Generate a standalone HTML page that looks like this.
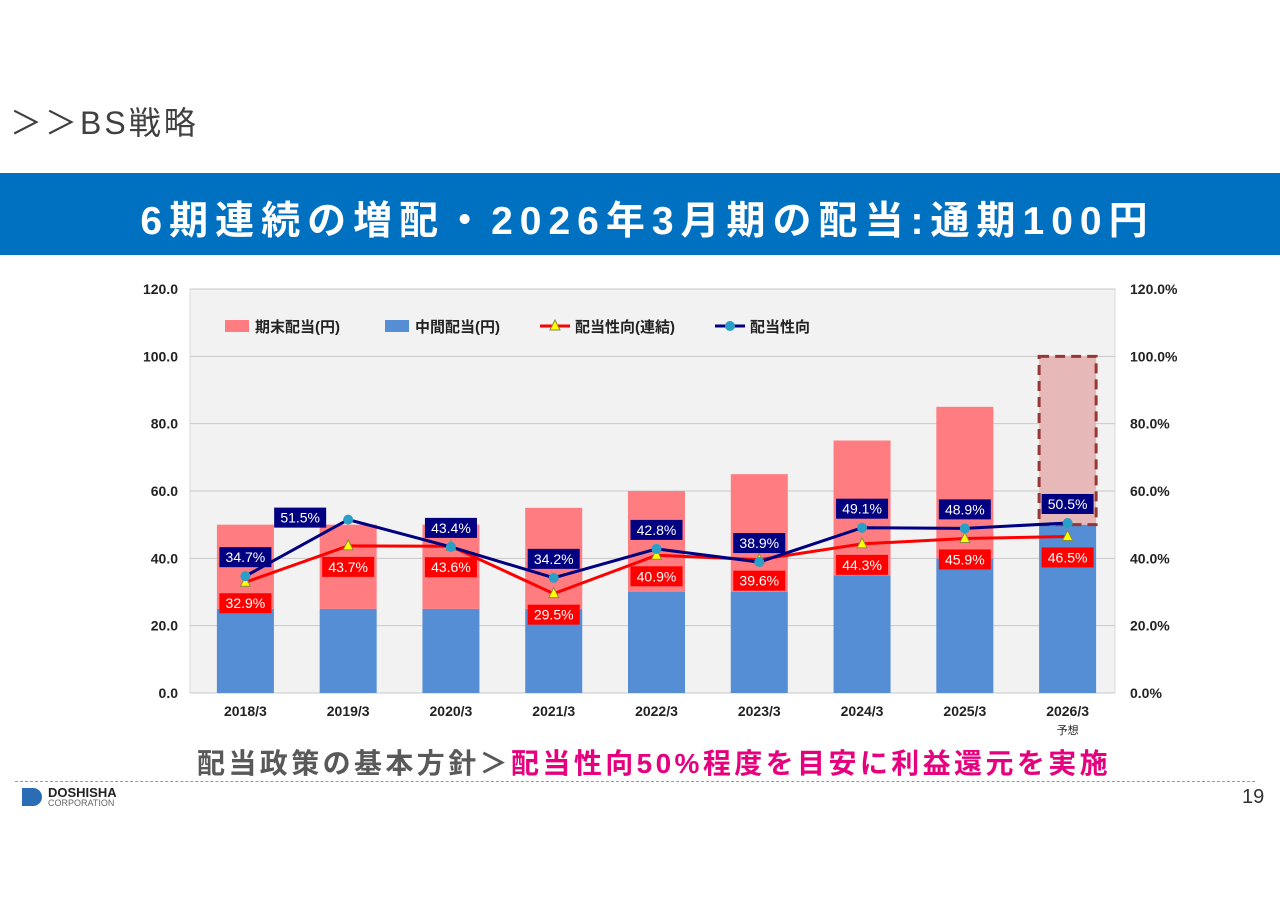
<!DOCTYPE html>
<html><head><meta charset="utf-8"><style>
body{margin:0;width:1280px;height:905px;background:#fff;font-family:"Liberation Sans","Noto Sans CJK JP",sans-serif;overflow:hidden;position:relative}
.abs{position:absolute}
</style></head><body>
<div class="abs" style="left:10px;top:98px;font-size:32px;color:#404040;letter-spacing:3px">＞＞BS戦略</div>
<div class="abs" style="left:0;top:173px;width:1280px;height:82px;background:#0070c0;"></div>
<div class="abs" style="left:0;top:190px;width:1295px;text-align:center;font-size:39px;font-weight:bold;color:#fff;letter-spacing:7px;white-space:nowrap">6期連続の増配・2026年3月期の配当:通期100円</div>
<svg class="abs" style="left:0;top:0" width="1280" height="905" id="chart"></svg>
<div class="abs" style="left:197px;top:742px;font-size:28px;font-weight:bold;color:#595959;white-space:nowrap;letter-spacing:3.4px">配当政策の基本方針＞<span style="color:#e6007e">配当性向50%程度を目安に利益還元を実施</span></div>
<div class="abs" style="left:15px;top:781px;width:1240px;border-top:1px dashed #999"></div>
<div class="abs" style="left:22px;top:786px;">
<div style="position:absolute;left:0;top:2px;width:20px;height:18px;background:#2a6db5;border-radius:0 9px 9px 0"></div>
<div style="position:absolute;left:26px;top:-1px;font-size:13px;font-weight:bold;color:#222">DOSHISHA</div>
<div style="position:absolute;left:26px;top:12px;font-size:9px;color:#666">CORPORATION</div></div>
<div class="abs" style="left:1242px;top:786px;font-size:20px;color:#333">19</div>
<script>
const categories=["2018/3","2019/3","2020/3","2021/3","2022/3","2023/3","2024/3","2025/3","2026/3"];
const interim=[25,25,25,25,30,30,35,40,50];
const yearEnd=[25,25,25,30,30,35,40,45,50];
const payoutConsol=[32.9,43.7,43.6,29.5,40.9,39.6,44.3,45.9,46.5];
const payout=[34.7,51.5,43.4,34.2,42.8,38.9,49.1,48.9,50.5];
const leftTicks=[0,20,40,60,80,100,120];
const NS="http://www.w3.org/2000/svg";
const svg=document.getElementById('chart');
const X0=190,X1=1115,Y0=693,Y1=289;
const band=(X1-X0)/categories.length;
const xc=i=>X0+band*(i+0.5)+4;
const yv=v=>Y0-(v/120)*(Y0-Y1);
const yp=p=>Y0-(p/120)*(Y0-Y1);
function el(t,a,txt){const e=document.createElementNS(NS,t);for(const k in a)e.setAttribute(k,a[k]);if(txt!==undefined)e.textContent=txt;svg.appendChild(e);return e;}
let bg=el('rect',{x:X0,y:Y1,width:X1-X0,height:Y0-Y1,fill:'#f2f2f2',stroke:'#d9d9d9'});

leftTicks.forEach(t=>{const y=yv(t);
let g=el('line',{x1:X0,x2:X1,y1:y,y2:y,stroke:'#c8c8c8'});
let l=el('text',{x:178,y:y+5,'text-anchor':'end','font-size':14,fill:'#222','font-weight':'bold'},t.toFixed(1));
let r=el('text',{x:1130,y:y+5,'font-size':14,fill:'#222','font-weight':'bold'},t.toFixed(1)+'%');});
const bw=57;
categories.forEach((c,i)=>{const x=xc(i)-bw/2;
const last=i===categories.length-1;
let b1=el('rect',{x:x,y:yv(interim[i]),width:bw,height:Y0-yv(interim[i]),fill:'#558ed5'});

const tot=interim[i]+yearEnd[i];
let b2=el('rect',{x:x,y:yv(tot),width:bw,height:yv(interim[i])-yv(tot),fill:last?'#e6b9b8':'#ff7c80',stroke:last?'#953735':'none','stroke-width':last?3:0,'stroke-dasharray':last?'10,6':''});

let t=el('text',{x:xc(i),y:716,'text-anchor':'middle','font-size':14,fill:'#222','font-weight':'bold'},c);

if(last){let t2=el('text',{x:xc(i),y:734,'text-anchor':'middle','font-size':11,fill:'#222'},'予想');}
});
function line(vals,color,name){let p=el('polyline',{points:vals.map((v,i)=>xc(i)+','+yp(v)).join(' '),fill:'none',stroke:color,'stroke-width':3});}
line(payoutConsol,'#ff0000','line-payout-consolidated');
line(payout,'#000080','line-payout');
function label(x,y,txt,bgc,name){let r=el('rect',{x:x-26,y:y-10,width:52,height:20,fill:bgc});
let t=el('text',{x:x,y:y+5,'text-anchor':'middle','font-size':14,fill:'#fff'},txt);}
payoutConsol.forEach((v,i)=>{let m=el('polygon',{points:`${xc(i)},${yp(v)-6} ${xc(i)-5},${yp(v)+4} ${xc(i)+5},${yp(v)+4}`,fill:'#ffff00',stroke:'#8a8a40'});
label(xc(i),yp(v)+21,v.toFixed(1)+'%','#ff0000','label-payout-consolidated');});
payout.forEach((v,i)=>{let m=el('circle',{cx:xc(i),cy:yp(v),r:5,fill:'#2aa0c8'});
const dx=i===1?-48:0,dy=i===1?-2:-19;
label(xc(i)+dx,yp(v)+dy,v.toFixed(1)+'%','#000080','label-payout');});
const lg=[['期末配当(円)','rect','#ff7c80',225],['中間配当(円)','rect','#558ed5',385],['配当性向(連結)','tri','#ff0000',545],['配当性向','dot','#000080',720]];
lg.forEach(([n,k,c,x])=>{const y=326;
let s;
if(k==='rect'){s=el('rect',{x:x,y:y-6,width:24,height:12,fill:c});}
else{s=el('line',{x1:x-5,x2:x+25,y1:y,y2:y,stroke:c,'stroke-width':3});
if(k==='tri')el('polygon',{points:`${x+10},${y-6} ${x+5},${y+4} ${x+15},${y+4}`,fill:'#ffff00',stroke:'#8a8a40'});else el('circle',{cx:x+10,cy:y,r:5,fill:'#2aa0c8'});}

let t=el('text',{x:x+30,y:y+6,'font-size':15,fill:'#222','font-weight':'bold'},n);});
</script>
</body></html>
